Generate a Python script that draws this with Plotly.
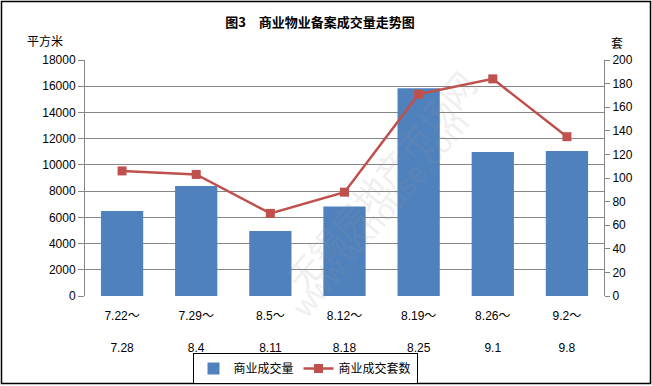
import plotly.graph_objects as go

week_start = ["7.22～", "7.29～", "8.5～", "8.12～", "8.19～", "8.26～", "9.2～"]
week_end = ["7.28", "8.4", "8.11", "8.18", "8.25", "9.1", "9.8"]
area_sqm = [6480, 8390, 4950, 6830, 15850, 10980, 11060]
units = [106, 103, 70, 88, 171, 184, 135]

categories = [f"{a}<br> <br>{b}" for a, b in zip(week_start, week_end)]

FONT = "Liberation Sans, Noto Sans CJK SC, sans-serif"
CJK = "Noto Sans CJK SC, sans-serif"

fig = go.Figure()
fig.add_trace(go.Bar(
    x=categories, y=area_sqm, name="商业成交量",
    marker=dict(color="#4F81BD", line=dict(width=0)),
    yaxis="y",
))
fig.add_trace(go.Scatter(
    x=categories, y=units, name="商业成交套数",
    mode="lines+markers",
    line=dict(color="#C0504D", width=2.5),
    marker=dict(symbol="square", size=9, color="#C0504D"),
    yaxis="y2",
))

L, R, T, B = 85, 48, 60, 90
W, H = 652, 386
pw, ph = W - L - R, H - T - B

def px_x(x):
    return (x - L) / pw

def px_y(y):
    return (H - B - y) / ph

fig.update_layout(
    width=W, height=H,
    margin=dict(l=L, r=R, t=T, b=B, autoexpand=False),
    paper_bgcolor="white", plot_bgcolor="white",
    bargap=0.43,
    showlegend=True,
    font=dict(family=FONT, size=12, color="#000000"),
    title=dict(text="<b>图3　商业物业备案成交量走势图</b>", x=320 / W, xanchor="center",
               y=1 - 22 / H, yanchor="middle", xref="container", yref="container",
               font=dict(family=CJK, size=13, color="#000000")),
    xaxis=dict(
        type="category", showgrid=False, zeroline=False, automargin=False,
        showline=False, ticks="outside", ticklen=9, tickcolor="rgba(0,0,0,0)",
        tickfont=dict(family=FONT, size=12),
    ),
    yaxis=dict(
        range=[0, 18000], dtick=2000, tickformat="d", automargin=False,
        showgrid=True, gridcolor="#868686", gridwidth=1,
        zeroline=False, showline=True, linecolor="#868686",
        ticks="outside", ticklen=6, tickcolor="#868686",
        tickfont=dict(family=FONT, size=12),
    ),
    yaxis2=dict(
        range=[0, 200], dtick=20, overlaying="y", side="right", showgrid=False,
        automargin=False,
        zeroline=False, showline=True, linecolor="#868686",
        ticks="outside", ticklen=5, tickcolor="#868686",
        tickfont=dict(family=FONT, size=12),
    ),
    legend=dict(
        orientation="h", x=px_x(305), xanchor="center", y=px_y(353), yanchor="top",
        bordercolor="#000000", borderwidth=1, bgcolor="white",
        font=dict(family=CJK, size=12), itemwidth=30, tracegroupgap=0,
    ),
)

fig.add_annotation(text="平方米", xref="paper", yref="paper", x=px_x(45), y=px_y(40),
                   showarrow=False, font=dict(family=CJK, size=12), xanchor="center", yanchor="middle")
fig.add_annotation(text="套", xref="paper", yref="paper", x=px_x(617), y=px_y(43),
                   showarrow=False, font=dict(family=CJK, size=12), xanchor="center", yanchor="middle")

# watermark
fig.add_annotation(text="无锡房地产市场网", xref="paper", yref="paper", x=px_x(380), y=px_y(180),
                   showarrow=False, textangle=-50, opacity=0.15,
                   font=dict(family=CJK, size=34, color="#999999"))
fig.add_annotation(text="www.wxhouse.com", xref="paper", yref="paper", x=px_x(380), y=px_y(215),
                   showarrow=False, textangle=-50, opacity=0.15,
                   font=dict(family=FONT, size=30, color="#999999"))

# outer frame
fig.add_shape(type="rect", xref="paper", yref="paper",
              x0=px_x(1.5), x1=px_x(650.5), y0=px_y(383.5), y1=px_y(1.5),
              line=dict(color="#000000", width=1.5), fillcolor="rgba(0,0,0,0)", layer="above")

fig.write_html("out.html", config={"displayModeBar": False},
               post_script="document.body.style.margin='0';document.body.style.overflow='hidden';")
